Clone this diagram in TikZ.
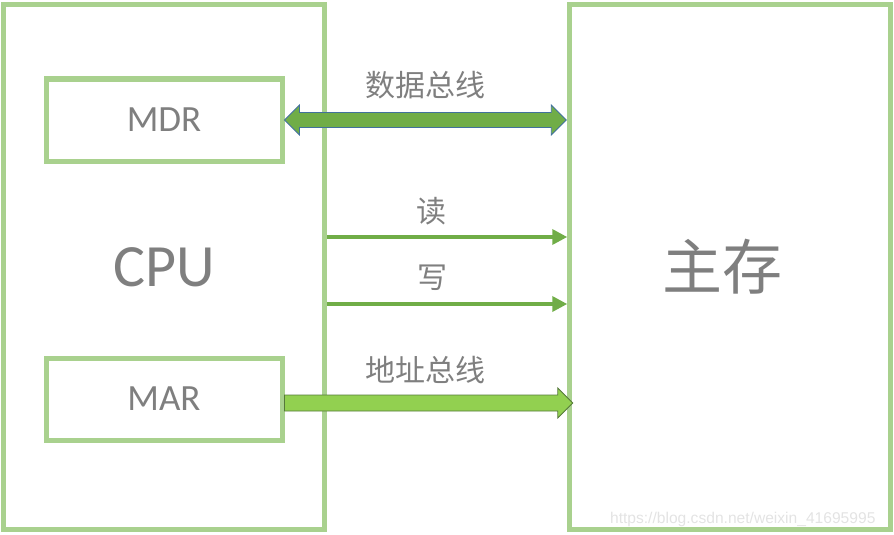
\documentclass[tikz,border=0pt]{standalone}
\usepackage{fontspec}
\setmainfont{Carlito}
\newfontfamily\cjk{Noto Sans CJK SC}
\newfontfamily\wmfont{Liberation Sans}
\usetikzlibrary{arrows.meta,calc,positioning}

\definecolor{boxgreen}{HTML}{A9D18E}
\definecolor{linegreen}{HTML}{70AD47}
\definecolor{addrgreen}{HTML}{92D050}
\definecolor{dataedge}{HTML}{41719C}
\definecolor{addredge}{HTML}{56793A}
\definecolor{txtgray}{HTML}{7F7F7F}

\tikzset{
  unitbox/.style={draw=boxgreen, line width=5pt, text=txtgray},
  regbox/.style={unitbox, minimum width=236pt, minimum height=82pt,
    font=\fontsize{37}{37}\selectfont},
  buslabel/.style={text=txtgray, font=\cjk\fontsize{30}{30}\selectfont},
  ctrlline/.style={draw=linegreen, line width=3.5pt, -{Triangle[length=15pt,width=15pt]}},
  databus/.style={fill=linegreen, draw=dataedge, line width=0.8pt, line join=miter},
  addrbus/.style={fill=addrgreen, draw=addredge, line width=0.8pt, line join=miter}
}

\begin{document}
\begin{tikzpicture}[x=1pt, y=-1pt]
  \useasboundingbox (0,0) rectangle (894,535);
  % CPU with its two registers, main memory on the right
  \node[unitbox, minimum width=321pt, minimum height=525pt,
    font=\fontsize{60}{60}\selectfont] (cpu) at (164,266.8) {CPU};
  \node[regbox] (mdr) at (164,120) {MDR};
  \node[regbox] (mar) at (164,399) {MAR};
  \node[unitbox, minimum width=320.5pt, minimum height=525pt] (mem) at (730,266.8) {};
  \node[text=txtgray, font=\cjk\fontsize{60}{60}\selectfont] (memlbl) at (722,267) {主存};

  % data bus: block arrow with two heads
  \coordinate (dbL) at (mdr.east);
  \coordinate (dbR) at ($(mem.west |- mdr.east)+(-1,0)$);
  \draw[databus] (dbL) -- ++(15,-15) -- ++(0,7.5) -- ($(dbR)+(-15,-7.5)$)
    -- ++(0,-7.5) -- (dbR) -- ++(-15,15) -- ++(0,-7.5)
    -- ($(dbL)+(15,7.5)$) -- ++(0,7.5) -- cycle;
  \node[buslabel] (datalbl) at (425,85) {数据总线};

  % read / write control lines
  \draw[ctrlline] (cpu.east |- 0,237) -- (mem.west |- 0,237);
  \node[buslabel] (readlbl) at (431,211) {读};
  \draw[ctrlline] (cpu.east |- 0,304) -- (mem.west |- 0,304);
  \node[buslabel] (writelbl) at (432,278) {写};

  % address bus: one head, into memory
  \coordinate (abL) at ($(mar.east)+(0,4)$);
  \coordinate (abR) at ($(mem.west |- abL)+(5.5,0)$);
  \draw[addrbus] ($(abL)+(0,-8)$) -- ($(abR)+(-15,-8)$) -- ++(0,-7)
    -- (abR) -- ++(-15,15) -- ++(0,-7) -- ($(abL)+(0,8)$) -- cycle;
  \node[buslabel] (addrlbl) at (425,370) {地址总线};

  \node[text=black!11, font=\wmfont\fontsize{15.6}{15.6}\selectfont,
    anchor=east] (mark) at (879,519) {https://blog.csdn.net/weixin\_41695995};
\end{tikzpicture}
\end{document}
